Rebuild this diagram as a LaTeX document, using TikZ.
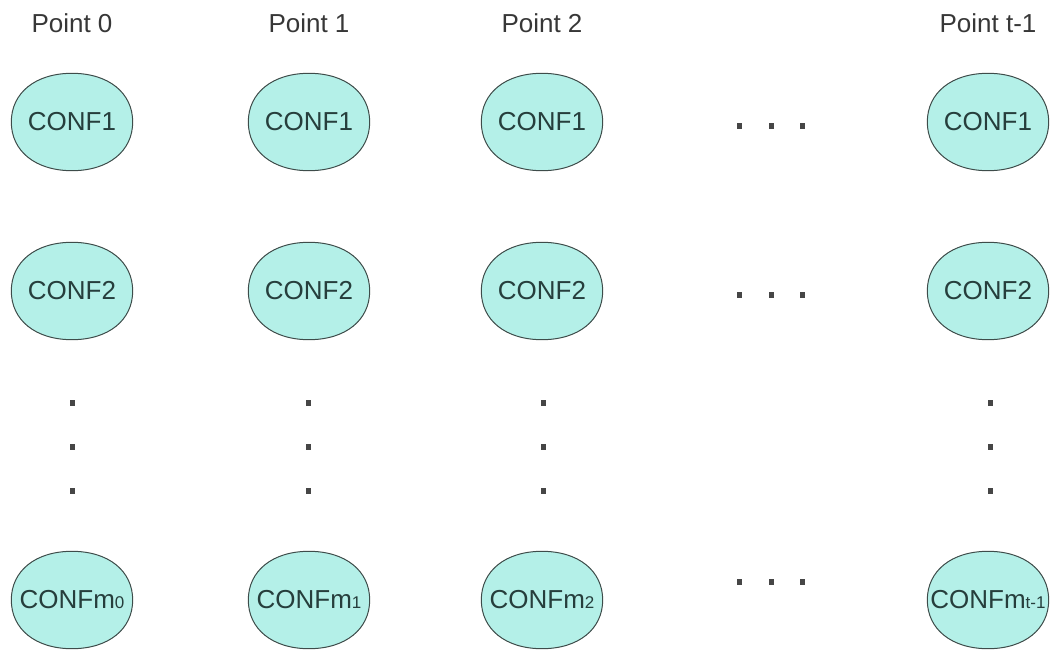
\documentclass[tikz,border=0pt]{standalone}
\usepackage{fontspec}
\setmainfont{Liberation Sans}
\usetikzlibrary{calc,backgrounds}

\definecolor{conffill}{RGB}{180,240,232}
\definecolor{confline}{RGB}{62,76,74}
\definecolor{conftext}{RGB}{38,62,60}
\definecolor{headtext}{RGB}{55,55,55}
\definecolor{dotgray}{RGB}{70,70,70}

\tikzset{
  confnode/.style={rectangle, minimum width=121pt, minimum height=97pt,
    inner sep=0pt, text=conftext, font=\fontsize{26pt}{30pt}\selectfont},
  headnode/.style={inner sep=0pt, text=headtext, font=\fontsize{26pt}{30pt}\selectfont},
  dotmark/.style={rectangle, fill=dotgray, minimum width=5pt, minimum height=6pt, inner sep=0pt},
  blob/.style={fill=conffill, draw=confline, line width=1pt},
}

% rounded, slightly squarish outline around a configuration node
\newcommand\confblob[1]{%
  \draw[blob] (#1.east)
    .. controls ($(#1.east)!0.6!(#1.north east)$) and ($(#1.north)!0.6!(#1.north east)$) .. (#1.north)
    .. controls ($(#1.north)!0.6!(#1.north west)$) and ($(#1.west)!0.6!(#1.north west)$) .. (#1.west)
    .. controls ($(#1.west)!0.6!(#1.south west)$) and ($(#1.south)!0.6!(#1.south west)$) .. (#1.south)
    .. controls ($(#1.south)!0.6!(#1.south east)$) and ($(#1.east)!0.6!(#1.south east)$) .. (#1.east)
    -- cycle;}

\newcommand\subidx[1]{{\fontsize{17pt}{18pt}\selectfont #1}}

\begin{document}
\begin{tikzpicture}[x=1pt,y=-1pt]
  \useasboundingbox (0,0) rectangle (1050,650);

  % column headers and configuration nodes
  \foreach \c/\x/\s in {0/72/0, 1/309/1, 2/542/2, 3/988/t-1} {
    \node[headnode] (h\c) at (\x,23) {Point \s};
    \node[confnode] (c\c r1) at (\x,122) {CONF1};
    \node[confnode] (c\c r2) at (\x,291) {CONF2};
    \node[confnode] (c\c rm) at (\x,600) {CONFm\subidx{\s}};
  }

  \begin{scope}[on background layer]
    \foreach \c in {0,...,3}
      \foreach \r in {1,2,m} {\confblob{c\c r\r}}
  \end{scope}

  % vertical ellipses between CONF2 and CONFm
  \foreach \c/\x in {0/72, 1/308, 2/543, 3/990}
    \foreach \k/\y in {1/403, 2/447, 3/491}
      \node[dotmark] (v\c d\k) at (\x,\y) {};

  % horizontal ellipses between Point 2 and Point t-1
  \foreach \r/\y in {1/126, 2/295, m/582}
    \foreach \k/\x in {1/739, 2/771, 3/802}
      \node[dotmark] (h\r d\k) at (\x,\y) {};
\end{tikzpicture}
\end{document}
